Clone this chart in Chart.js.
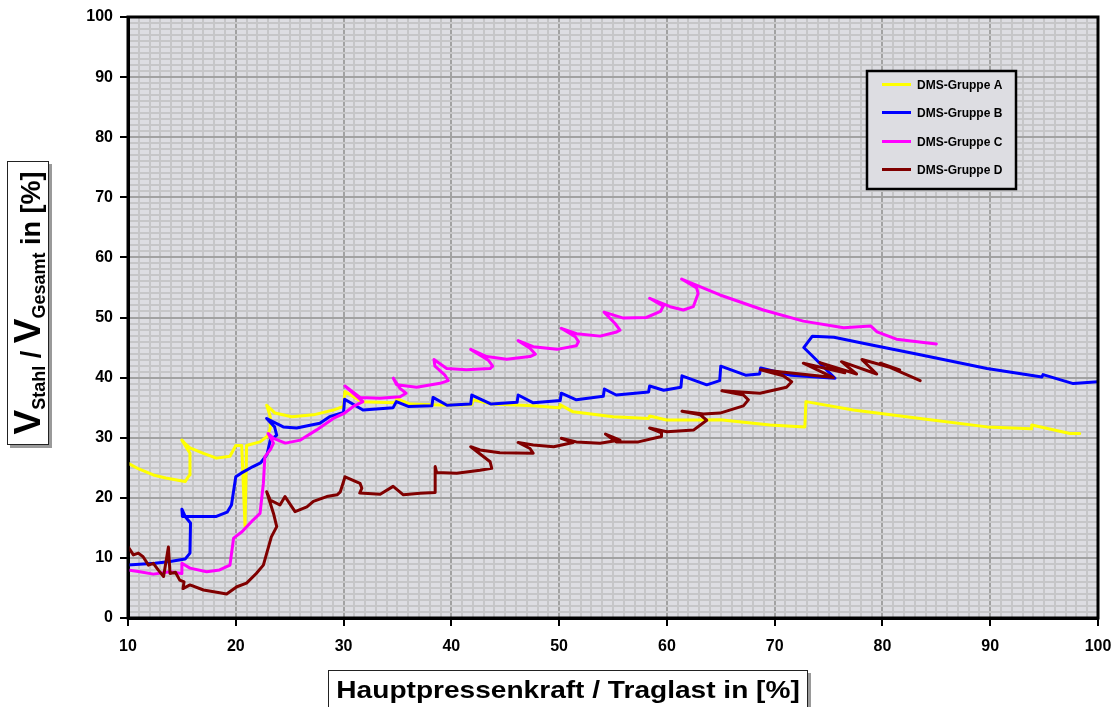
<!DOCTYPE html>
<html><head><meta charset="utf-8">
<script src="https://cdn.jsdelivr.net/npm/chart.js@4/dist/chart.umd.min.js"></script>
<style>
html,body{margin:0;padding:0;background:#fff;}
#wrap{position:relative;width:1116px;height:707px;overflow:hidden;font-family:"Liberation Sans",Arial,sans-serif;}
#c{position:absolute;left:0;top:0;}
.tbox{position:absolute;background:#fff;border:1px solid #222;box-sizing:border-box;color:#000;font-weight:bold;white-space:nowrap;display:flex;align-items:center;justify-content:center;}
#ytitle{left:-114px;top:282px;width:284px;height:42px;transform:rotate(-90deg);box-shadow:-3px 3px 0 #9a9a9a;font-size:27px;}
#ytitle .big{font-size:37px;}
#ytitle sub{font-size:18px;vertical-align:-5px;}
#xtitle{left:328px;top:670px;width:480px;height:40px;box-shadow:3px 3px 0 #9a9a9a;}
#xtitle span{display:inline-block;font-size:24px;transform:scaleX(1.17);}
</style></head><body>
<div id="wrap">
<canvas id="c" width="1116" height="707"></canvas>
<div class="tbox" id="ytitle"><span><span class="big">V</span><sub>Stahl</sub> / <span class="big">V</span><sub>Gesamt</sub> in [%]</span></div>
<div class="tbox" id="xtitle"><span>Hauptpressenkraft / Traglast in [%]</span></div>
</div>
<script>
const seriesNames = ['DMS-Gruppe A','DMS-Gruppe B','DMS-Gruppe C','DMS-Gruppe D'];
const seriesColors = ['#ffff00','#0000ff','#ff00ff','#800000'];
const xTickLabels = ['10','20','30','40','50','60','70','80','90','100'];
const yTickLabels = ['0','10','20','30','40','50','60','70','80','90','100'];

const groupA_x = [9.95,11,12.35,13.5,15.3,15.7,15.75,15.0,15.3,15.75,17,18.2,19.46,20.0,20.55,20.86,21.0,22.25,22.9,23.2,23.2,22.87,23.64,25.19,27.2,29.06,30.0,30.13,31.68,34.8,34.93,36.17,38.95,41.9,42.04,43.74,47.6,50.0,50.08,51.3,55.0,58.3,58.4,59.98,63.07,64.93,69.57,72.8,72.9,77.3,83.5,89.7,93.8,93.85,97.4,98.3];
const groupA_y = [25.8,24.8,23.8,23.3,22.7,23.8,27.4,29.6,29.0,28.3,27.4,26.6,26.9,28.7,28.7,15.2,28.7,29.3,30.2,31.5,33.5,35.4,34.1,33.5,33.8,34.6,35.2,37.7,36.0,35.8,36.5,35.6,35.45,35.5,36.3,35.6,35.3,35.0,35.5,34.3,33.5,33.2,33.6,32.95,32.95,33.0,32.1,31.8,36.0,34.6,33.2,31.8,31.5,32.1,30.7,30.7];

const groupB_x = [9.95,12.5,13.9,15.3,15.75,15.8,15.3,15.0,15.05,16.4,18.2,19.2,19.6,20.0,20.5,21.6,22.3,22.9,23.2,23.8,23.6,22.87,24.4,25.65,27.8,28.7,30.0,30.1,31.8,34.6,34.9,36.0,38.2,38.3,39.6,41.8,41.9,43.7,46.1,46.2,47.6,50.1,50.2,51.6,54.1,54.2,55.3,58.3,58.4,59.7,61.3,61.4,63.7,64.9,65.0,67.3,68.6,68.7,71.5,75.6,72.7,73.5,75.5,78.2,83.5,89.7,94.8,94.9,97.7,100];
const groupB_y = [8.8,9.1,9.4,9.8,10.8,15.8,16.9,18.1,16.9,16.9,16.9,17.6,18.8,23.5,24.1,25.2,25.8,27.2,29.6,30.4,31.8,33.2,31.8,31.6,32.4,33.5,34.2,36.4,34.6,35.0,36.0,35.2,35.3,36.7,35.4,35.6,37.1,35.6,35.9,37.1,35.8,36.2,37.4,36.3,36.9,38.1,37.1,37.6,38.6,37.9,38.4,40.3,38.8,39.5,41.9,40.4,40.6,41.6,40.4,39.9,45.0,46.9,46.7,45.7,43.8,41.5,40.1,40.5,39.0,39.3];

const groupC_x = [9.95,11.1,12.35,13.9,15.0,15.0,15.75,17.3,18.5,19.46,19.8,20.6,21.6,22.25,22.56,22.7,23.2,23.5,23.0,23.5,24.6,26.0,27.5,29.05,30.1,30.9,31.8,30.13,31.53,33.38,35.24,35.8,35.24,34.62,34.93,36.78,38.95,39.72,39.41,38.48,38.39,39.57,41.4,43.6,43.84,43.43,41.8,43.28,45.13,47.3,47.8,47.3,46.2,47.6,49.8,51.6,51.8,51.5,50.2,51.63,53.8,55.34,55.65,55.19,54.17,55.96,58.1,59.4,59.67,58.4,60.3,61.53,62.45,62.9,62.76,61.37,64.93,68.95,72.66,76.4,78.9,79.5,81.3,85.0];
const groupC_y = [8.0,7.7,7.3,7.7,7.4,9.1,8.3,7.7,8.0,8.8,13.3,14.4,16.3,17.4,22.4,26.8,28.0,29.1,30.7,29.9,29.1,29.6,31.3,33.2,34.1,35.2,36.0,38.6,36.7,36.55,36.8,37.4,38.2,39.9,38.8,38.4,39.05,39.5,40.4,41.9,43.0,41.5,41.3,41.5,41.9,42.9,44.7,43.5,43.04,43.5,43.9,44.9,46.15,45.15,44.7,45.3,46.0,46.8,48.2,47.3,46.9,47.6,47.9,49.0,50.9,49.9,50.0,51.0,51.9,53.2,51.8,51.25,51.8,54.0,54.9,56.4,53.75,51.25,49.4,48.3,48.6,47.6,46.4,45.6];

const groupD_x = [9.95,10.5,10.96,11.4,11.9,12.35,12.8,13.3,13.75,13.9,14.4,14.8,15.2,15.1,15.75,17.0,18.5,19.15,20.1,21.0,21.9,22.56,23.3,23.8,23.5,22.87,23.2,24.1,24.57,25.5,26.6,27.2,28.44,29.4,29.7,30.14,31.53,31.7,31.5,33.4,34.6,35.55,37.1,38.5,38.5,38.64,40.5,42.66,43.75,43.6,41.8,42.66,44.5,47.6,47.3,46.2,47.6,49.5,51.3,50.2,51.6,53.8,55.65,54.3,55.3,57.35,59.5,59.5,58.4,60.0,62.5,63.7,63.1,61.4,63.4,64.93,67.1,67.56,67.1,65.1,68.64,71.1,71.58,70.8,68.7,75.45,72.66,76.5,74.2,77.6,76.2,79.47,78.1,81.6,79.8,83.5];
const groupD_y = [12.0,10.5,10.8,10.2,8.8,9.1,8.0,6.9,11.8,7.4,7.6,6.3,6.0,4.9,5.5,4.66,4.2,4.0,5.2,5.8,7.4,8.8,13.5,15.2,17.4,21.0,19.6,18.8,20.2,17.7,18.5,19.4,20.2,20.5,21.0,23.5,22.4,21.6,20.8,20.6,21.9,20.5,20.75,20.9,25.2,24.2,24.1,24.6,24.9,26.0,28.5,27.96,27.5,27.4,28.2,29.2,28.8,28.5,29.2,29.9,29.3,29.07,29.6,30.6,29.3,29.3,30.2,30.8,31.6,31.0,31.3,32.9,33.8,34.4,33.95,34.1,35.3,36.3,37.1,37.8,37.4,38.4,39.3,40.3,41.3,40.0,42.4,40.8,42.5,40.6,42.65,40.6,43.0,41.26,42.4,39.5];

function pts(xs, ys){ return xs.map((x,i)=>({x:x, y:ys[i]})); }
const allX = [groupA_x, groupB_x, groupC_x, groupD_x];
const allY = [groupA_y, groupB_y, groupC_y, groupD_y];

const isMajor = v => Math.abs(Math.round(v) % 10) === 0;

const bgPlugin = {
  id:'bg',
  beforeDraw(chart){
    const {ctx, chartArea:a} = chart;
    ctx.save(); ctx.fillStyle = '#dddde2';
    ctx.fillRect(a.left, a.top, a.right-a.left, a.bottom-a.top);
    ctx.restore();
  },
  afterDraw(chart){
    const {ctx, chartArea:a} = chart;
    ctx.save();
    ctx.strokeStyle = '#000'; ctx.lineWidth = 3;
    ctx.strokeRect(a.left, a.top, a.right-a.left, a.bottom-a.top);
    const lx = 867, ly = 71, lw = 149, lh = 118;
    ctx.fillStyle = '#dddde2'; ctx.fillRect(lx, ly, lw, lh);
    ctx.lineWidth = 2.5; ctx.strokeStyle = '#000'; ctx.strokeRect(lx, ly, lw, lh);
    const rows = [84.5, 112.5, 141.5, 169.5];
    ctx.font = 'bold 12px "Liberation Sans", Arial, sans-serif';
    ctx.textBaseline = 'middle'; ctx.textAlign = 'left';
    chart.data.datasets.forEach((ds, i) => {
      ctx.strokeStyle = ds.borderColor; ctx.lineWidth = 3;
      ctx.beginPath(); ctx.moveTo(882, rows[i]); ctx.lineTo(911, rows[i]); ctx.stroke();
      ctx.fillStyle = '#000'; ctx.fillText(ds.label, 917, rows[i]+1);
    });
    ctx.restore();
  }
};

new Chart(document.getElementById('c'), {
  type: 'line',
  data: {
    datasets: seriesNames.map((n,i)=>({
      label: n, data: pts(allX[i], allY[i]), borderColor: seriesColors[i], backgroundColor: seriesColors[i],
      borderWidth: 3, pointRadius: 0, tension: 0, fill: false, order: 4-i,
      borderJoinStyle: 'round', borderCapStyle: 'round'
    }))
  },
  options: {
    responsive: false, animation: false,
    layout: { padding: { top: 17, right: 18, left: 0, bottom: 0 } },
    plugins: { legend: { display: false }, tooltip: { enabled: false } },
    scales: {
      x: {
        type: 'linear', min: 10, max: 100,
        afterFit: s => { s.height = 89; s.paddingLeft = 0; s.paddingRight = 0; },
        ticks: { stepSize: 1, autoSkip: false, maxRotation: 0, padding: 11, color: '#000',
          font: { family: '"Liberation Sans", Arial, sans-serif', size: 16, weight: 'bold' },
          callback: v => isMajor(v) ? xTickLabels[Math.round((v-10)/10)] : '' },
        grid: { color: c => isMajor(c.tick.value) ? '#a2a2a2' : '#c6c6c8', lineWidth: 2,
          tickColor: c => isMajor(c.tick.value) ? '#000' : 'rgba(0,0,0,0)', tickLength: 8, tickWidth: 2 },
        border: { color: '#000', width: 3 }
      },
      y: {
        type: 'linear', min: 0, max: 100,
        afterFit: s => { s.width = 128; s.paddingTop = 0; s.paddingBottom = 0; },
        ticks: { stepSize: 1, autoSkip: false, padding: 7, color: '#000',
          font: { family: '"Liberation Sans", Arial, sans-serif', size: 16, weight: 'bold' },
          callback: v => isMajor(v) ? yTickLabels[Math.round(v/10)] : '' },
        grid: { color: c => isMajor(c.tick.value) ? '#a2a2a2' : '#c6c6c8', lineWidth: 2,
          tickColor: c => isMajor(c.tick.value) ? '#000' : 'rgba(0,0,0,0)', tickLength: 8, tickWidth: 2 },
        border: { color: '#000', width: 3 }
      }
    }
  },
  plugins: [bgPlugin]
});
</script>
</body></html>
